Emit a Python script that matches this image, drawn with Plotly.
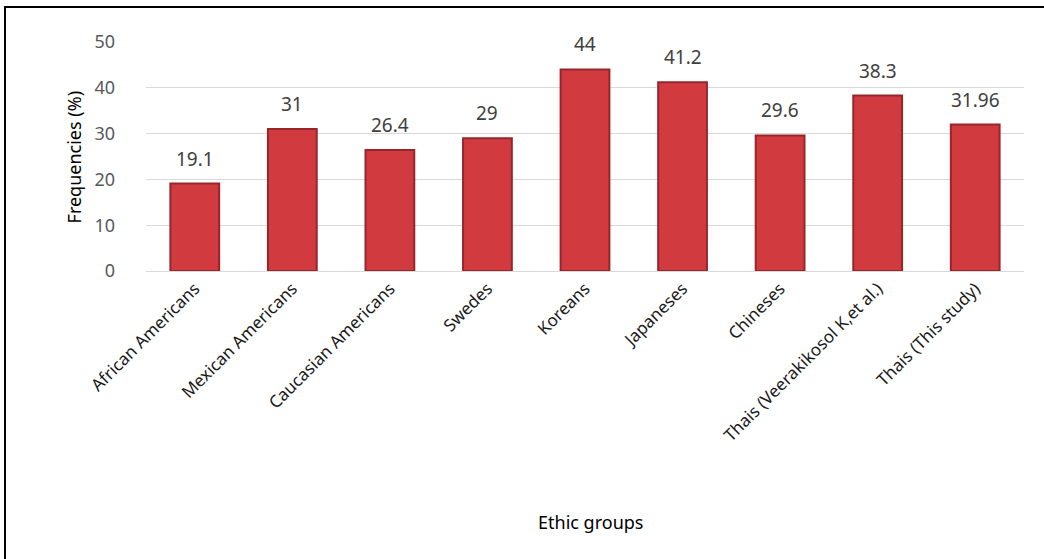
import plotly.graph_objects as go

# Frequencies by ethnic group
groups = [
    "African Americans",
    "Mexican Americans",
    "Caucasian Americans",
    "Swedes",
    "Koreans",
    "Japaneses",
    "Chineses",
    "Thais (Veerakikosol K,et al.)",
    "Thais (This study)",
]
frequencies = [19.1, 31, 26.4, 29, 44, 41.2, 29.6, 38.3, 31.96]
value_labels = ["19.1", "31", "26.4", "29", "44", "41.2", "29.6", "38.3", "31.96"]
y_ticks = [0, 10, 20, 30, 40, 50]

FONT = "Noto Sans"

fig = go.Figure()
fig.add_trace(go.Bar(
    x=groups,
    y=frequencies,
    marker=dict(color="#D13B40", line=dict(color="#962629", width=2)),
    width=0.5,
    hoverinfo="x+y",
))

# value labels above each bar
for g, v, t in zip(groups, frequencies, value_labels):
    fig.add_annotation(
        x=g, y=v, text=t, showarrow=False, yanchor="bottom", yshift=10,
        font=dict(family=FONT, size=19, color="#404040"),
    )

# axis titles
fig.add_annotation(
    xref="paper", yref="paper", x=0.5057, y=-1.157, text="Ethic groups",
    showarrow=False, font=dict(family=FONT, size=18, color="#000000"),
)
fig.add_annotation(
    xref="paper", yref="paper", x=-0.098, y=0.5, text="Frequencies (%)",
    textangle=-90, showarrow=False,
    font=dict(family=FONT, size=18, color="#000000"),
)

# outer frame
fig.add_shape(
    type="rect", xref="paper", yref="paper",
    x0=-0.1606, x1=1.04, y0=-1.3, y1=1.1528,
    line=dict(color="#000000", width=2), fillcolor="rgba(0,0,0,0)", layer="below",
)

fig.update_layout(
    width=1044, height=559,
    margin=dict(l=146, r=20, t=42, b=288),
    paper_bgcolor="white", plot_bgcolor="white",
    showlegend=False,
    bargap=0.5,
    xaxis=dict(
        tickangle=-45, showgrid=False, showline=True, linecolor="#D9D9D9",
        linewidth=1, ticks="",
        tickfont=dict(family=FONT, size=17, color="#1A1A1A"),
    ),
    yaxis=dict(
        range=[0, 50], tickvals=y_ticks, showgrid=True, gridcolor="#D9D9D9",
        gridwidth=1, zeroline=False, showline=False,
        ticklabelstandoff=30,
        tickfont=dict(family=FONT, size=18, color="#595959"),
    ),
)

fig.write_html("out.html")
